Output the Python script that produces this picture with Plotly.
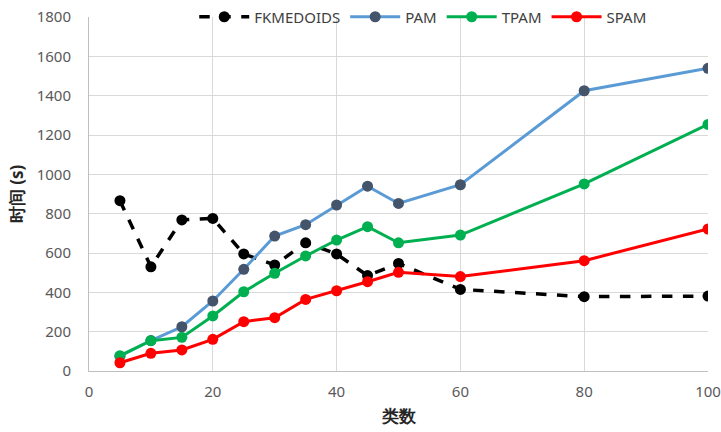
import plotly.graph_objects as go

clusters = [5, 10, 15, 20, 25, 30, 35, 40, 45, 50, 60, 80, 100]
fkmedoids = [866, 530, 768, 776, 595, 539, 652, 595, 485, 547, 415, 378, 381]
pam = [75, 155, 225, 356, 517, 686, 744, 844, 940, 852, 947, 1425, 1539]
tpam = [78, 154, 171, 280, 403, 497, 585, 666, 734, 652, 691, 951, 1254]
spam = [42, 90, 107, 161, 251, 271, 364, 408, 454, 502, 480, 561, 722]

font_family = "Noto Sans, Liberation Sans, sans-serif"

fig = go.Figure()

fig.add_trace(go.Scatter(
    x=clusters, y=fkmedoids, name="FKMEDOIDS", mode="lines+markers",
    line=dict(color="black", width=3.5, dash="dash"),
    marker=dict(color="black", size=11),
))
fig.add_trace(go.Scatter(
    x=clusters, y=pam, name="PAM", mode="lines+markers",
    line=dict(color="#5b9bd5", width=3),
    marker=dict(color="#44546a", size=11),
))
fig.add_trace(go.Scatter(
    x=clusters, y=tpam, name="TPAM", mode="lines+markers",
    line=dict(color="#00b050", width=3),
    marker=dict(color="#00b050", size=11),
))
fig.add_trace(go.Scatter(
    x=clusters, y=spam, name="SPAM", mode="lines+markers",
    line=dict(color="#ff0000", width=3),
    marker=dict(color="#ff0000", size=11),
))

fig.update_layout(
    width=721, height=432,
    margin=dict(l=89, r=13, t=17, b=61, autoexpand=False),
    paper_bgcolor="white", plot_bgcolor="white",
    font=dict(family=font_family, size=15, color="#595959"),
    showlegend=True,
    legend=dict(
        orientation="h", x=0.17, y=1.0, xanchor="left", yanchor="middle",
        bgcolor="rgba(255,255,255,0)", font=dict(size=15, color="#404040"),
        itemwidth=50, tracegroupgap=0,
    ),
    xaxis=dict(
        range=[0, 100], tickvals=[0, 20, 40, 60, 80, 100],
        showgrid=True, gridcolor="#d9d9d9", gridwidth=1,
        showline=True, linecolor="#bfbfbf", linewidth=1,
        zeroline=False, ticks="", ticklabelstandoff=7, automargin=False,
        tickfont=dict(size=15, color="#595959"),
        title=dict(text="<b>类数</b>", font=dict(size=17, color="#262626"), standoff=10),
    ),
    yaxis=dict(
        range=[0, 1800], dtick=200,
        showgrid=True, gridcolor="#d9d9d9", gridwidth=1,
        showline=True, linecolor="#bfbfbf", linewidth=1,
        zeroline=False, ticks="", ticklabelstandoff=14, automargin=False,
        tickfont=dict(size=15, color="#595959"),
        title=dict(text="<b>时间 (s)</b>", font=dict(size=17, color="#262626"), standoff=8),
    ),
)

fig.write_html("out.html")
